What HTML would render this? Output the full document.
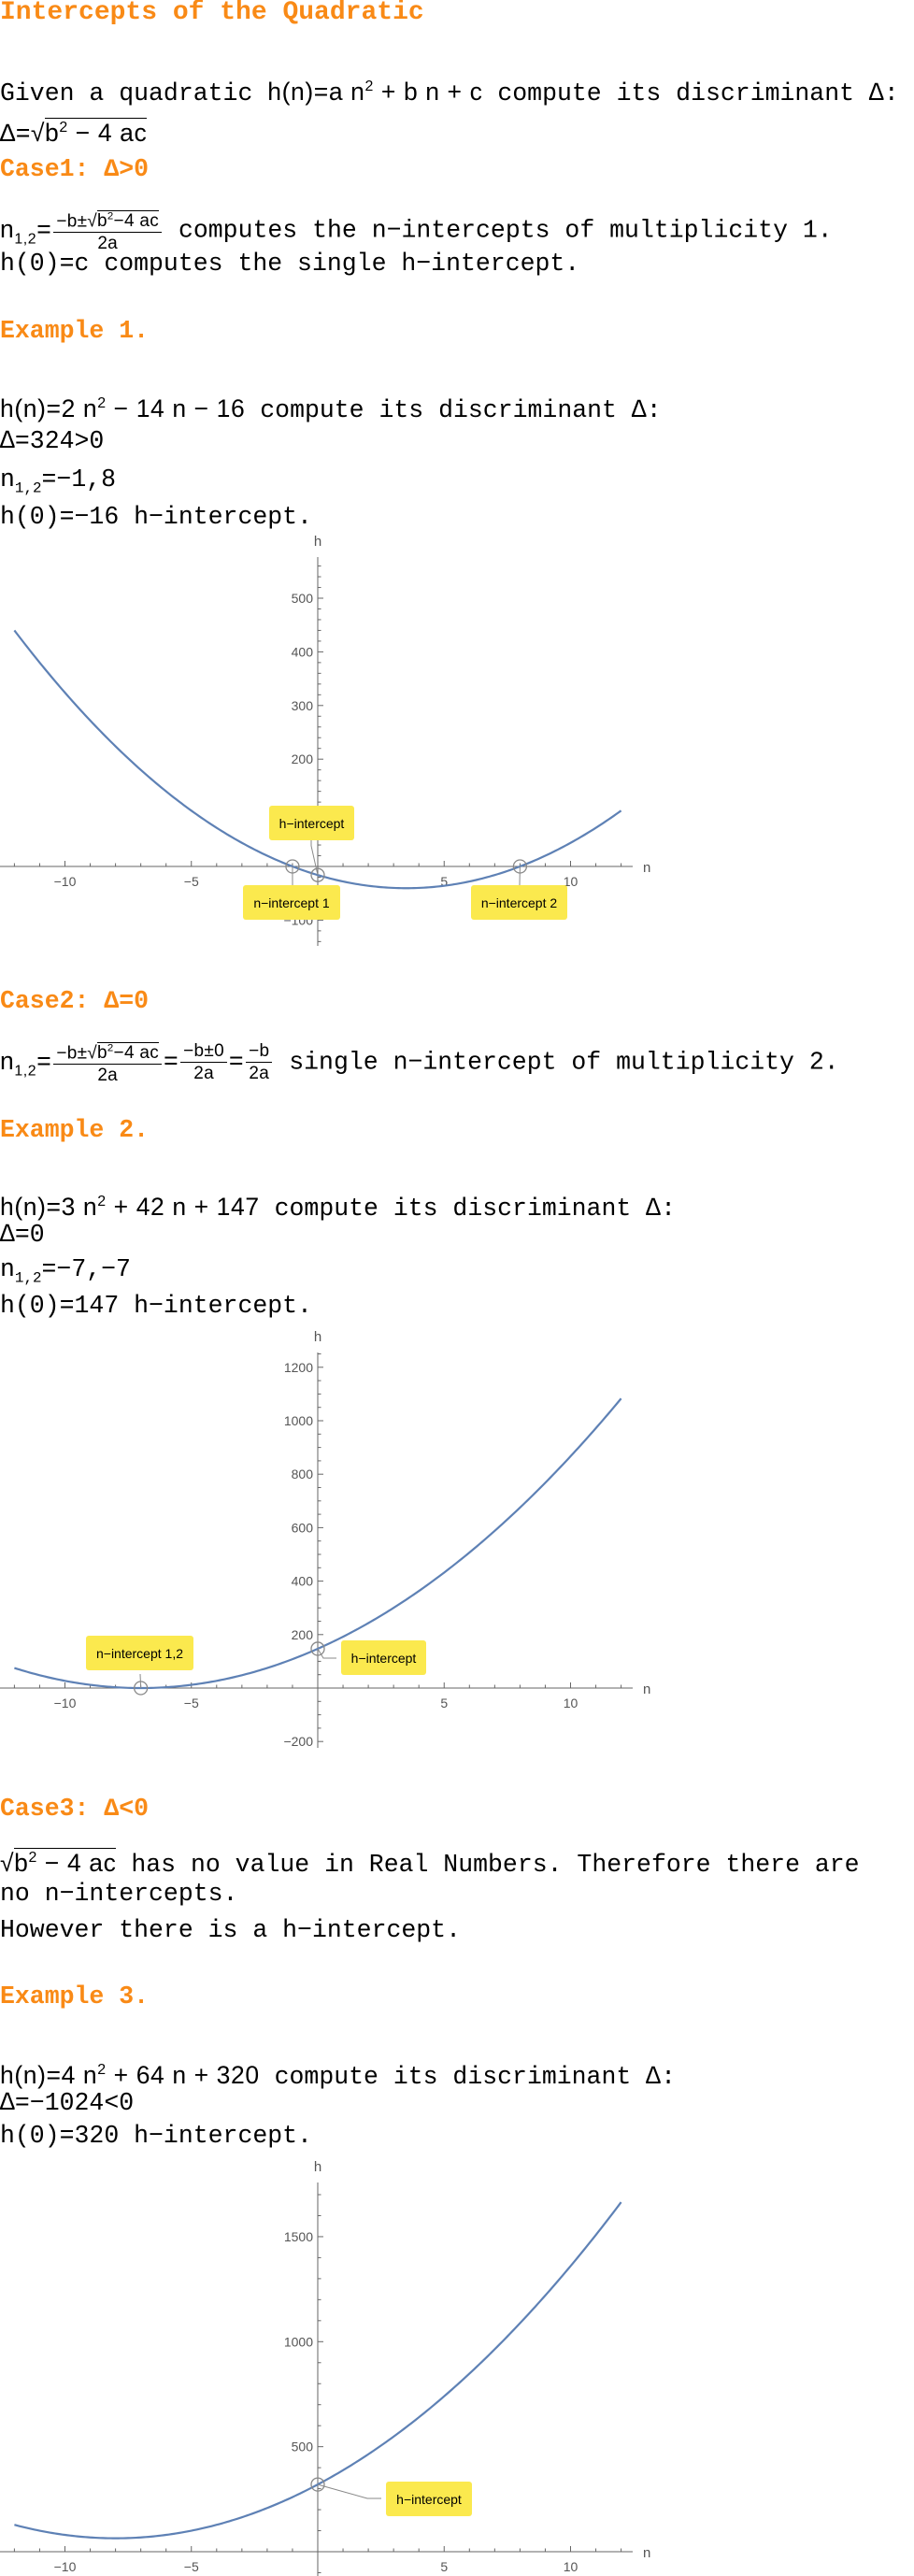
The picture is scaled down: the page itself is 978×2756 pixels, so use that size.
<!DOCTYPE html>
<html><head><meta charset="utf-8">
<style>
body{margin:0;width:978px;height:2756px;background:#fff;position:relative;overflow:hidden;font-family:"Liberation Mono","DejaVu Sans Mono",monospace;color:#000}
.l{position:absolute;left:0;font-size:26.5px;line-height:34px;white-space:nowrap}
.h{color:#f98a16;font-weight:bold}
.m{font-family:"Liberation Sans",sans-serif;letter-spacing:0.6px}
.fr{display:inline-flex;flex-direction:column;align-items:center;vertical-align:middle;font-family:"Liberation Sans",sans-serif;font-size:19px;line-height:23px;margin:0 2px;letter-spacing:0.3px}
.fr>span:first-child{border-bottom:1.5px solid #000;padding:0 3px}
.sq{border-top:1.5px solid #000}
sub,sup{font-size:60%}
svg{position:absolute;left:0}
</style></head><body>
<div class="l h" style="top:-3px;font-size:28px">Intercepts of the Quadratic</div>
<div class="l" style="top:76px">Given a quadratic <span class="m">h(n)=a n<sup>2</sup> + b n + c</span> compute its discriminant ∆:</div>
<div class="l" style="top:120px"><span class="m">∆=√<span class="sq">b<sup>2</sup> − 4 ac</span></span></div>
<div class="l h" style="top:164px">Case1: ∆&gt;0</div>
<div class="l" style="top:221px"><span class="m">n<sub>1,2</sub>=</span><span class="fr"><span>−b±√<span class="sq">b<sup>2</sup>−4 ac</span></span><span>2a</span></span> computes the n−intercepts of multiplicity 1.</div>
<div class="l" style="top:265px">h(0)=c computes the single h−intercept.</div>
<div class="l h" style="top:337px">Example 1.</div>
<div class="l" style="top:415px"><span class="m">h(n)=2 n<sup>2</sup> − 14 n − 16</span> compute its discriminant ∆:</div>
<div class="l" style="top:455px">∆=324&gt;0</div>
<div class="l" style="top:496px">n<sub>1,2</sub>=−1,8</div>
<div class="l" style="top:536px">h(0)=−16 h−intercept.</div>

<div class="l h" style="top:1054px">Case2: ∆=0</div>
<div class="l" style="top:1111px"><span class="m">n<sub>1,2</sub>=</span><span class="fr"><span>−b±√<span class="sq">b<sup>2</sup>−4 ac</span></span><span>2a</span></span><span class="m">=</span><span class="fr"><span>−b±0</span><span>2a</span></span><span class="m">=</span><span class="fr"><span>−b</span><span>2a</span></span> single n−intercept of multiplicity 2.</div>
<div class="l h" style="top:1192px">Example 2.</div>
<div class="l" style="top:1269px"><span class="m">h(n)=3 n<sup>2</sup> + 42 n + 147</span> compute its discriminant ∆:</div>
<div class="l" style="top:1304px">∆=0</div>
<div class="l" style="top:1341px">n<sub>1,2</sub>=−7,−7</div>
<div class="l" style="top:1380px">h(0)=147 h−intercept.</div>

<div class="l h" style="top:1918px">Case3: ∆&lt;0</div>
<div class="l" style="top:1971px"><span class="m">√<span class="sq">b<sup>2</sup> − 4 ac</span></span> has no value in Real Numbers. Therefore there are</div>
<div class="l" style="top:2009px">no n−intercepts.</div>
<div class="l" style="top:2048px">However there is a h−intercept.</div>
<div class="l h" style="top:2119px">Example 3.</div>
<div class="l" style="top:2198px"><span class="m">h(n)=4 n<sup>2</sup> + 64 n + 320</span> compute its discriminant ∆:</div>
<div class="l" style="top:2233px">∆=−1024&lt;0</div>
<div class="l" style="top:2268px">h(0)=320 h−intercept.</div>

<svg id="chart1" width="978" height="2756" style="top:0"></svg>

<script>
// chart data
const coeffs1 = [2, -14, -16];
const coeffs2 = [3, 42, 147];
const coeffs3 = [4, 64, 320];
const xTickLabels = [-10, -5, 5, 10];
const yTicks1 = [-100, 100, 200, 300, 400, 500];
const yTicks2 = [-200, 200, 400, 600, 800, 1000, 1200];
const yTicks3 = [500, 1000, 1500];
const nRange = [-12, 12];
const labels1 = [{n:0, h:-16, text:'h−intercept'}, {n:-1, h:0, text:'n−intercept 1'}, {n:8, h:0, text:'n−intercept 2'}];
const labels2 = [{n:-7, h:0, text:'n−intercept 1,2'}, {n:0, h:147, text:'h−intercept'}];
const labels3 = [{n:0, h:320, text:'h−intercept'}];

const NS='http://www.w3.org/2000/svg';
const svg=document.getElementById('chart1');
function mk(tag,attrs,parent){const e=document.createElementNS(NS,tag);for(const k in attrs)e.setAttribute(k,attrs[k]);(parent||svg).appendChild(e);return e;}

function drawChart(cfg, coeffs, yTicks, labels, boxes, name){
  const g=mk('g',{});
  
  
  const X=n=>340+27.05*n;
  const Y=h=>cfg.axisY-cfg.k*h;
  mk('line',{x1:0,y1:cfg.axisY,x2:677,y2:cfg.axisY,stroke:'#666','stroke-width':1},g);
  for(let n=-12;n<=12;n++){ if(n===0)continue; const big=n%5===0;
    mk('line',{x1:X(n),y1:cfg.axisY,x2:X(n),y2:cfg.axisY-(big?6:3.5),stroke:'#666','stroke-width':1},g);}
  xTickLabels.forEach(v=>{const t=mk('text',{x:X(v),y:cfg.axisY+21,'text-anchor':'middle','font-family':'Liberation Sans, sans-serif','font-size':14,fill:'#555'},g);t.textContent=v<0?'−'+(-v):v;
    
    });
  const nl=mk('text',{x:688,y:cfg.axisY+6,'font-family':'Liberation Sans, sans-serif','font-size':15,fill:'#555'},g);nl.textContent='n';
  
  
  mk('line',{x1:340,y1:cfg.top,x2:340,y2:cfg.bottom,stroke:'#666','stroke-width':1},g);
  const hmin=Math.ceil((cfg.axisY-cfg.bottom)/cfg.k/cfg.minor)*cfg.minor, hmax=(cfg.axisY-cfg.top)/cfg.k;
  for(let h=hmin;h<=hmax;h+=cfg.minor){ if(h===0)continue; const big=h%cfg.major===0;
    mk('line',{x1:340,y1:Y(h),x2:340+(big?6:3.5),y2:Y(h),stroke:'#666','stroke-width':1},g);}
  yTicks.forEach(v=>{const t=mk('text',{x:335,y:Y(v)+5,'text-anchor':'end','font-family':'Liberation Sans, sans-serif','font-size':14,fill:'#555'},g);t.textContent=v<0?'−'+(-v):v;
    
    });
  const hl=mk('text',{x:340,y:cfg.top-12,'text-anchor':'middle','font-family':'Liberation Sans, sans-serif','font-size':15,fill:'#555'},g);hl.textContent='h';
  
  
  let d='';
  for(let i=0;i<=240;i++){const n=nRange[0]+(nRange[1]-nRange[0])*i/240;const h=coeffs[0]*n*n+coeffs[1]*n+coeffs[2];d+=(i?'L':'M')+X(n).toFixed(2)+' '+Y(h).toFixed(2);}
  const p=mk('path',{d:d,fill:'none',stroke:'#5e81b5','stroke-width':2.2},g);
  
  
  labels.forEach((lb,i)=>{const b=boxes[i];const cx=X(lb.n),cy=Y(lb.h);
    mk('polyline',{points:b.leader.map(q=>q.join(',')).join(' ').replace('C',cx+','+cy),fill:'none',stroke:'#888','stroke-width':1},g);
    const c=mk('circle',{cx:cx,cy:cy,r:7,fill:'none',stroke:'#888','stroke-width':1.3},g);
    
    
    const r=mk('rect',{x:b.x,y:b.y,width:b.w,height:37,rx:3,fill:'#fbe94e'},g);
    
    
    const t=mk('text',{x:b.x+b.w/2,y:b.y+24,'text-anchor':'middle','font-family':'Liberation Sans, sans-serif','font-size':14,fill:'#000'},g);t.textContent=lb.text;
    
    
  });
}
drawChart({axisY:927,k:0.574,top:596,bottom:1012,minor:20,major:100},coeffs1,yTicks1,labels1,
 [{x:288,y:862,w:91,leader:[['C'],[333,905],[333,899]]},{x:260,y:947,w:104,leader:[['C'],[313,947]]},{x:504,y:947,w:103,leader:[['C'],[556,947]]}],'chart-1');
drawChart({axisY:1806,k:0.286,top:1447,bottom:1870,minor:50,major:200},coeffs2,yTicks2,labels2,
 [{x:92,y:1750,w:115,leader:[['C'],[150,1791]]},{x:365,y:1755,w:91,leader:[['C'],[346,1774],[360,1774]]}],'chart-2');
drawChart({axisY:2730,k:0.2247,top:2335,bottom:2760,minor:100,major:500},coeffs3,yTicks3,labels3,
 [{x:413,y:2655,w:92,leader:[['C'],[393,2673],[408,2673]]}],'chart-3');
</script>
</body></html>
